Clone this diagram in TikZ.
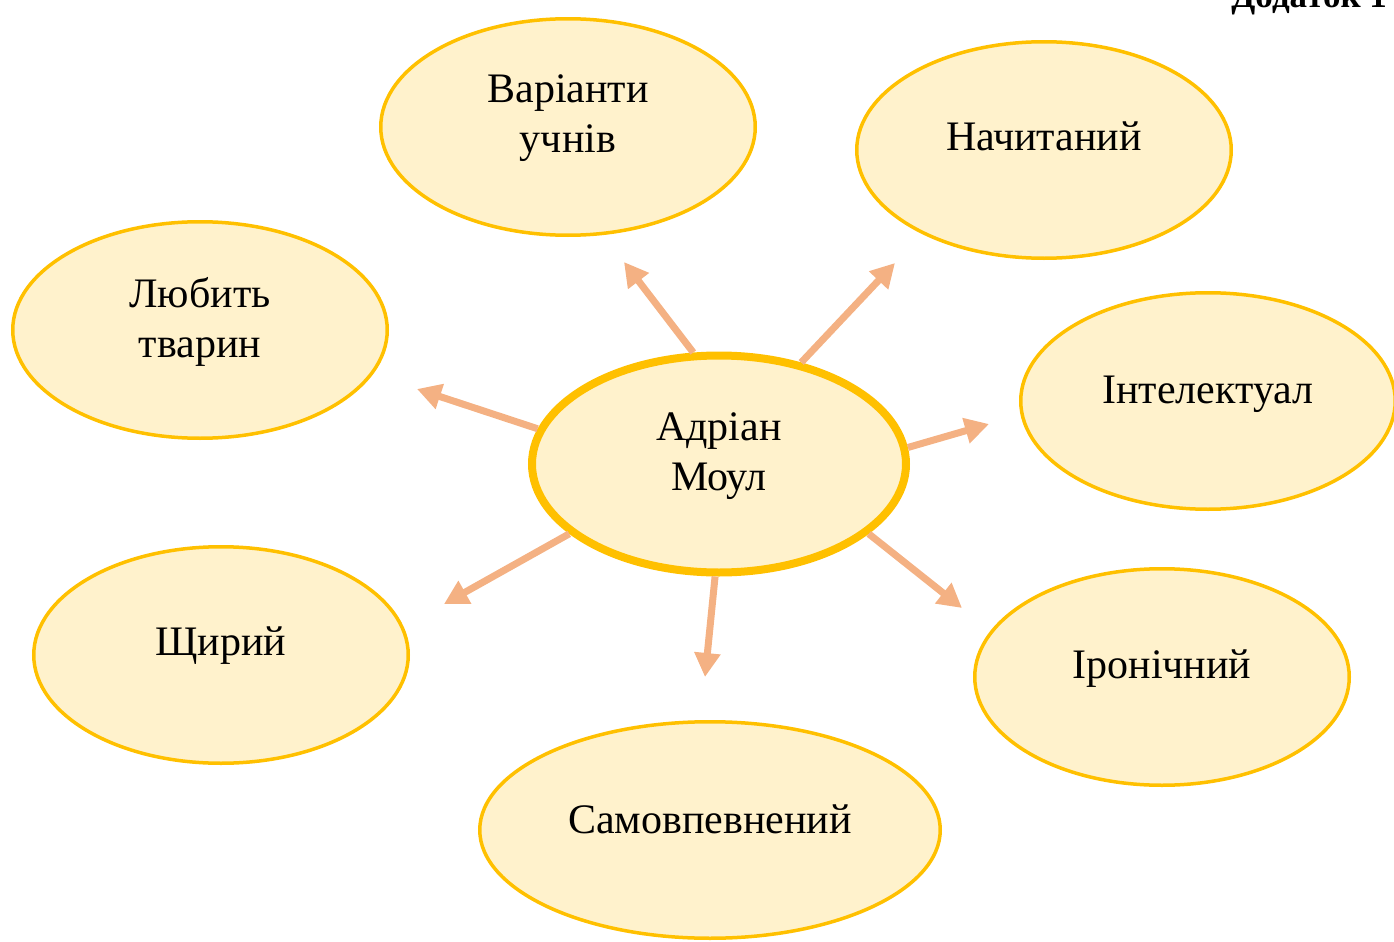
\documentclass[tikz,border=0pt]{standalone}
\usepackage{fontspec}
\setmainfont{Liberation Serif}
\usetikzlibrary{shapes.geometric,arrows.meta}
\definecolor{ering}{HTML}{FFC000}
\definecolor{efill}{HTML}{FFF2CC}
\definecolor{arr}{HTML}{F4B183}
\begin{document}
\begin{tikzpicture}[x=0.5pt,y=-0.5pt,
 bubble/.style={ellipse, draw=ering, fill=efill, line width=1.75pt, minimum width=187.25pt, minimum height=108.25pt, inner sep=0pt},
 hub/.style={ellipse, draw=ering, fill=efill, line width=4pt, minimum width=187pt, minimum height=108.5pt, inner sep=0pt},
 lbl/.style={font=\fontsize{21}{25}\selectfont, align=center, inner sep=0pt, anchor=base},
 ray/.style={draw=arr, line width=3.5pt, -{Triangle[length=12pt,width=12.5pt]}}]
\useasboundingbox (0,0) rectangle (1394,942);
\clip (0,0) rectangle (1394,942);
\node[anchor=base west, inner sep=0pt, font=\fontsize{17.5}{20}\selectfont\bfseries] (add) at (1231,8) {Додаток 1};
% bubbles
\node[bubble] (b1) at (568,127) {};
\node[bubble] (b2) at (1044,150) {};
\node[bubble] (b3) at (200,330) {};
\node[bubble] (b4) at (1208,401) {};
\node[bubble] (b6) at (221,655) {};
\node[bubble] (b7) at (1162,677) {};
\node[bubble, minimum width=230.25pt] (b8) at (710,830) {};
\node[hub] (c) at (719,464) {};
% labels
\node[lbl] (t1) at (568,152) {Варіанти\\учнів};
\node[lbl] (t2) at (1044,150) {Начитаний};
\node[lbl] (t3) at (200,357) {Любить\\тварин};
\node[lbl] (t4) at (1208,403) {Інтелектуал};
\node[lbl] (tc) at (719,490) {Адріан\\Моул};
\node[lbl] (t6) at (221,655) {Щирий};
\node[lbl] (t7) at (1162,678) {Іронічний};
\node[lbl] (t8) at (710,833) {Самовпевнений};
% arrow tips
\coordinate (e1) at (624,262);
\coordinate (e2) at (895,263);
\coordinate (e3) at (417,389);
\coordinate (e4) at (989,424);
\coordinate (e5) at (962,608);
\coordinate (e6) at (444,604);
\coordinate (e7) at (705,677);
\draw[ray] (c.103.7) -- (e1);
\draw[ray] (c.51.5) -- (e2);
\draw[ray] (c.169.2) -- (e3);
\draw[ray] (c.5.2) -- (e4);
\draw[ray] (c.-25.6) -- (e5);
\draw[ray] (c.205) -- (e6);
\draw[ray] (c.268.5) -- (e7);
\end{tikzpicture}
\end{document}
